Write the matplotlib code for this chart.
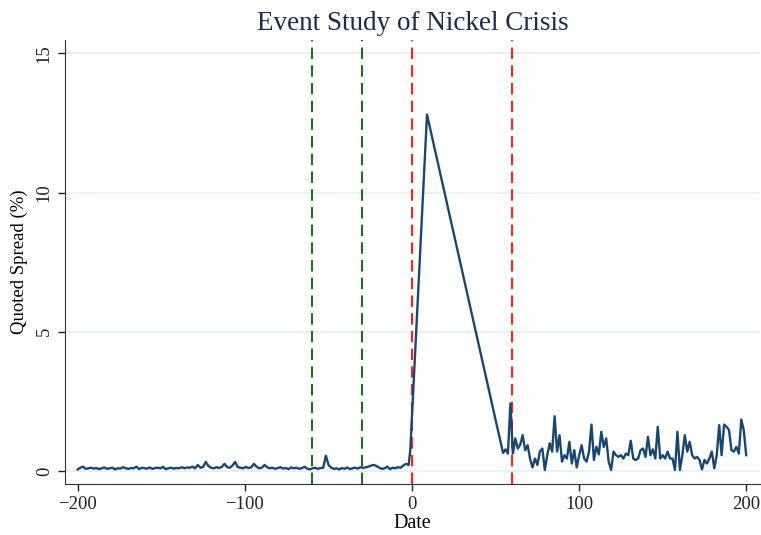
import matplotlib
matplotlib.use("Agg")
import matplotlib.pyplot as plt
import numpy as np

# quoted spread (%)
PRE_VALUES = [
    0.06, 0.12, 0.16, 0.08, 0.1, 0.12, 0.09, 0.11, 0.07, 0.1, 0.13, 0.08,
    0.1, 0.12, 0.06, 0.1, 0.09, 0.14, 0.1, 0.08, 0.11, 0.1, 0.16, 0.07,
    0.12, 0.1, 0.09, 0.13, 0.08, 0.11, 0.12, 0.1, 0.15, 0.07, 0.1, 0.12,
    0.09, 0.11, 0.1, 0.14, 0.1, 0.13, 0.12, 0.16, 0.1, 0.22, 0.12, 0.15,
    0.33, 0.18, 0.12, 0.1, 0.14, 0.11, 0.15, 0.26, 0.14, 0.12, 0.2, 0.33,
    0.14, 0.12, 0.1, 0.15, 0.11, 0.13, 0.26, 0.16, 0.1, 0.12, 0.22, 0.14,
    0.1, 0.12, 0.08, 0.11, 0.14, 0.09, 0.11, 0.07, 0.13, 0.1, 0.12, 0.08,
    0.11, 0.15, 0.09, 0.06, 0.1, 0.12, 0.08, 0.11, 0.12, 0.55, 0.22, 0.12,
    0.08, 0.1, 0.06, 0.11, 0.08, 0.13, 0.07, 0.1, 0.12, 0.09, 0.14, 0.11,
    0.14, 0.16, 0.2, 0.22, 0.18, 0.12, 0.08, 0.1, 0.16, 0.07, 0.12, 0.1,
    0.14, 0.12, 0.2, 0.26, 0.22,
]
EVENT_DAYS = [-1, 9]
EVENT_VALUES = [0.75, 12.8]
POST_VALUES = [
    0.65, 0.78, 0.63, 2.43, 0.63, 1.17, 0.81, 0.95, 1.29, 0.75, 0.93, 0.45,
    0.13, 0.45, 0.22, 0.7, 0.81, 0.04, 0.57, 1.0, 0.7, 1.97, 0.7, 1.29,
    0.34, 0.57, 0.45, 1.05, 0.27, 0.75, 0.13, 0.57, 0.93, 0.45, 0.34, 0.7,
    1.67, 0.4, 0.87, 0.6, 1.41, 0.87, 1.17, 0.34, 0.04, 0.7, 0.57, 0.51,
    0.57, 0.45, 0.63, 0.57, 1.09, 0.45, 0.4, 0.45, 0.75, 0.81, 0.51, 1.23,
    0.57, 0.78, 0.45, 1.59, 0.45, 0.57, 0.45, 0.7, 0.45, 0.45, 0.04, 1.41,
    0.04, 0.57, 1.29, 0.7, 1.05, 0.57, 0.45, 0.51, 0.4, 0.06, 0.4, 0.27,
    0.45, 0.7, 0.1, 0.57, 1.65, 0.57, 1.67, 1.59, 1.47, 0.75, 0.7, 0.87,
    0.63, 1.85, 1.47, 0.57,
]
PRE_START, PRE_END = -200, -2
POST_START, POST_END = 54.5, 200
GREEN_LINES = [-60, -30]
RED_LINES = [0, 60]
X_TICKS = [-200, -100, 0, 100, 200]
Y_TICKS = [0, 5, 10, 15]

NAVY = "#1a476f"
SERIF = ["Liberation Serif", "DejaVu Serif"]


def main():
    pre_days = np.linspace(PRE_START, PRE_END, len(PRE_VALUES))
    post_days = np.linspace(POST_START, POST_END, len(POST_VALUES))
    days = np.concatenate([pre_days, EVENT_DAYS, post_days])
    spread = np.concatenate([PRE_VALUES, EVENT_VALUES, POST_VALUES])

    plt.rcParams["font.family"] = SERIF
    fig = plt.figure(figsize=(7.61, 5.35), dpi=100)
    ax = fig.add_axes([0.085, 0.095, 0.914, 0.83])

    ax.plot(days, spread, color=NAVY, linewidth=1.7, zorder=3)
    for d in GREEN_LINES:
        ax.axvline(d, color="#1e6b22", linestyle=(0, (5.5, 3)), linewidth=1.5, zorder=2)
    for d in RED_LINES:
        ax.axvline(d, color="#ff2020", linestyle=(0, (5.5, 3)), linewidth=1.5, zorder=2)

    ax.set_xlim(-207.8, 208.4)
    ax.set_ylim(-0.47, 15.47)
    ax.set_xticks(X_TICKS)
    ax.set_yticks(Y_TICKS)
    ax.tick_params(labelsize=13.5, length=5, width=1, direction="out", colors="#222222")
    for lab in ax.get_yticklabels():
        lab.set_rotation(90)
        lab.set_va("center")
    ax.grid(axis="y", color="#e4eef0", linewidth=1.2)
    ax.set_axisbelow(True)
    ax.spines["top"].set_visible(False)
    ax.spines["right"].set_visible(False)
    ax.spines["left"].set_color("#333333")
    ax.spines["bottom"].set_color("#333333")

    ax.set_xlabel("Date", fontsize=14.5, labelpad=1)
    ax.set_ylabel("Quoted Spread (%)", fontsize=13.5, labelpad=6)
    ax.set_title("Event Study of Nickel Crisis", fontsize=19.5, color="#1c2a4a", pad=7)

    fig.savefig("out.png", dpi=100)
    plt.close(fig)


if __name__ == "__main__":
    main()
